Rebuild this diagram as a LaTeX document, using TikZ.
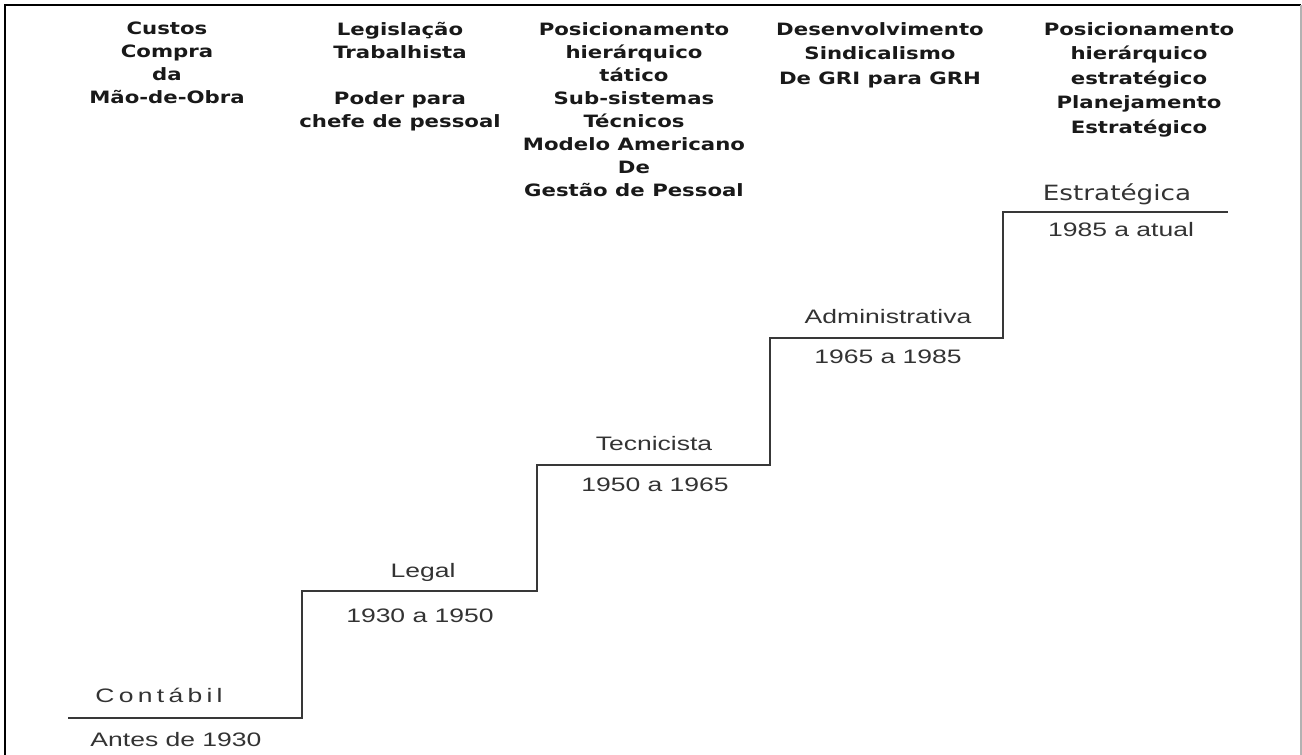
\documentclass[tikz,border=0pt]{standalone}
\usepackage{fontspec}
\newfontfamily\headfont[FakeStretch=1.25]{DejaVu Sans}
\newfontfamily\stepfont[FakeStretch=1.36]{Liberation Sans}
\newfontfamily\widestepfont[FakeStretch=1.36,LetterSpace=22]{Liberation Sans}
\newfontfamily\topfont[FakeStretch=1.25]{DejaVu Sans}
\definecolor{stairgray}{HTML}{383838}
\definecolor{labelgray}{HTML}{333333}

\begin{document}
\begin{tikzpicture}[x=1pt,y=-1pt]
\useasboundingbox (0,0) rectangle (1302,755);
% frame (no bottom edge)
\draw[black, line width=2.6pt] (5,755) -- (5,5) -- (1301,5);
\draw[gray!60, line width=1.4pt] (1301,5) -- (1301,755);

\begin{scope}[every node/.style={anchor=north,inner sep=0pt,align=center,
    text=black!90,font=\headfont\bfseries\fontsize{17}{23}\selectfont}]
    \node (custos) at (167,22) {Custos\\Compra\\da\\Mão-de-Obra};
    \node (legis) at (400,22) {Legislação\\Trabalhista\\[23pt]Poder para\\chefe de pessoal};
    \node (tatico) at (634,22) {Posicionamento\\hierárquico\\tático\\Sub-sistemas\\Técnicos\\Modelo Americano\\De\\Gestão de Pessoal};
    \node[font=\headfont\bfseries\fontsize{17}{24.5}\selectfont] (desenv) at (880,22) {Desenvolvimento\\Sindicalismo\\De GRI para GRH};
    \node[font=\headfont\bfseries\fontsize{17}{24.5}\selectfont] (estrat) at (1139,22) {Posicionamento\\hierárquico\\estratégico\\Planejamento\\Estratégico};
\end{scope}

% stair
\coordinate (s0) at (68,718);
\coordinate (s1) at (302,591);
\coordinate (s2) at (537,465);
\coordinate (s3) at (770,338);
\coordinate (s4) at (1003,212);
\coordinate (s5) at (1228,212);
\draw[stairgray, line width=2.6pt] (s0) -| (s1) -| (s2) -| (s3) -| (s4) -- (s5);

\begin{scope}[every node/.style={inner sep=0pt,text=labelgray,
    font=\stepfont\fontsize{19.5}{22}\selectfont}]
    \node[anchor=base,font=\widestepfont\fontsize{19.5}{22}\selectfont] (contabil) at (159,702) {Contábil};
    \node[anchor=north] (antes) at (176,732) {Antes de 1930};
    \node[anchor=base] (legal) at (423,577) {Legal};
    \node[anchor=north] (legalano) at (420,609) {1930 a 1950};
    \node[anchor=base] (tecnicista) at (654,450) {Tecnicista};
    \node[anchor=north] (tecano) at (655,478) {1950 a 1965};
    \node[anchor=base] (admin) at (888,323) {Administrativa};
    \node[anchor=north] (adminano) at (888,350) {1965 a 1985};
    \node[anchor=base,font=\topfont\fontsize{21}{24}\selectfont] (estrategica) at (1117,200) {Estratégica};
    \node[anchor=north] (atual) at (1121,222) {1985 a atual};
\end{scope}
\end{tikzpicture}
\end{document}
